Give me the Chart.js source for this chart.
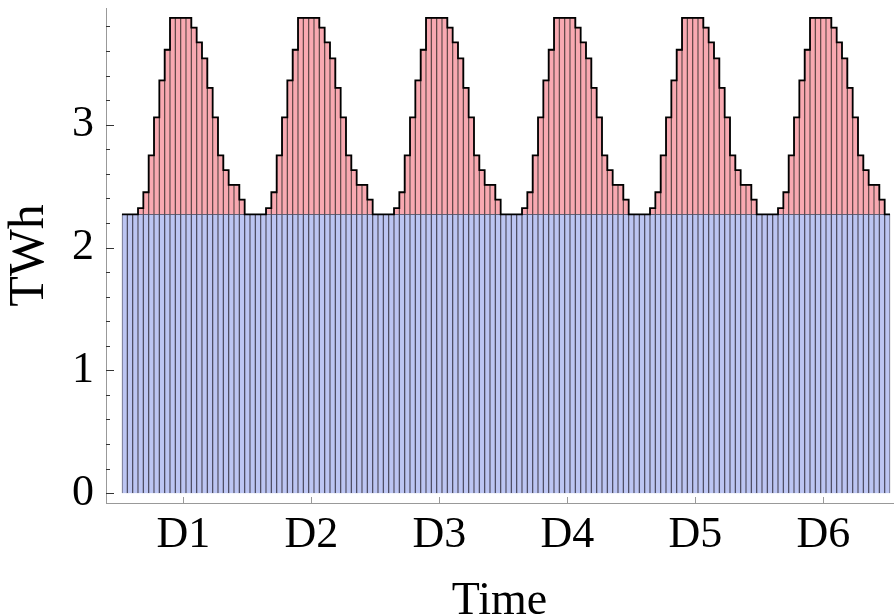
<!DOCTYPE html>
<html lang="en">
  <head>
    <meta charset="utf-8" />
    <title>Hourly load, six days</title>
    <style>
      * {
        margin: 0;
        padding: 0;
      }
      body {
        background: white;
      }
      .chartBox {
        width: 895px;
        height: 616px;
      }
    </style>
  </head>
  <body>
    <div class="chartBox">
      <canvas id="myChart"></canvas>
    </div>
    <script src="https://cdn.jsdelivr.net/npm/chart.js"></script>
    <script>
      // data (TWh per hour slot)
      const dayLabels = ['D1', 'D2', 'D3', 'D4', 'D5', 'D6'];
      const hoursPerDay = 24;
      const baseLoad = 2.27;
      // peak part on top of the base, one day, hour 0..23
      const peakProfile = [0, 0, 0, 0.05, 0.18, 0.48, 0.79, 1.09, 1.34, 1.6, 1.6, 1.6,
                           1.6, 1.52, 1.4, 1.27, 1.03, 0.79, 0.48, 0.36, 0.24, 0.24, 0.12, 0];
      const yMajorTicks = [0, 1, 2, 3];
      const yMinorTicks = [0.2, 0.4, 0.6, 0.8, 1.2, 1.4, 1.6, 1.8, 2.2, 2.4, 2.6, 2.8, 3.2, 3.4, 3.6, 3.8];
      const dayTickHour = 11;

      // build the series, hour by hour
      const baseData = [];
      const peakData = [];
      const outline = [];
      dayLabels.forEach((d, di) => {
        peakProfile.forEach((p, h) => {
          const i = di * hoursPerDay + h;
          baseData.push({ x: i, y: baseLoad });
          peakData.push({ x: i, y: p });
          outline.push({ x: i - 0.5, y: baseLoad + p });
        });
      });
      const last = outline[outline.length - 1];
      outline.push({ x: last.x + 1, y: last.y });
      const dayTicks = dayLabels.map((d, i) => i * hoursPerDay + dayTickHour);

      const serif = "'Liberation Serif', 'Times New Roman', serif";

      // inward ticks, like the original
      const innerTicks = {
        id: 'innerTicks',
        afterDraw(chart) {
          const { ctx, chartArea, scales } = chart;
          ctx.save();
          ctx.lineWidth = 1;
          ctx.strokeStyle = '#333';
          yMajorTicks.concat(yMinorTicks).forEach((v) => {
            const py = Math.round(scales.y.getPixelForValue(v)) + 0.5;
            const len = yMajorTicks.includes(v) ? 8 : 4;
            ctx.beginPath();
            ctx.moveTo(chartArea.left, py);
            ctx.lineTo(chartArea.left + len, py);
            ctx.stroke();
          });
          ctx.strokeStyle = '#999';
          dayTicks.forEach((v) => {
            const px = Math.round(scales.x.getPixelForValue(v)) + 0.5;
            ctx.beginPath();
            ctx.moveTo(px, chartArea.bottom);
            ctx.lineTo(px, chartArea.bottom - 6);
            ctx.stroke();
          });
          ctx.restore();
        },
      };

      const config = {
        type: 'bar',
        data: {
          datasets: [
            {
              label: 'outline',
              type: 'line',
              data: outline,
              stack: 'outline',
              stepped: 'before',
              borderColor: '#000',
              borderWidth: 1.8,
              pointRadius: 0,
              fill: false,
              order: 0,
            },
            {
              label: 'base',
              data: baseData,
              stack: 'load',
              backgroundColor: '#bcc5f2',
              borderColor: 'rgba(20, 20, 50, 0.65)',
              borderWidth: 1,
              barPercentage: 1,
              categoryPercentage: 1,
              order: 1,
            },
            {
              label: 'peak',
              data: peakData,
              stack: 'load',
              backgroundColor: '#f9a9b1',
              borderColor: 'rgba(50, 10, 10, 0.65)',
              borderWidth: 1,
              barPercentage: 1,
              categoryPercentage: 1,
              order: 1,
            },
          ],
        },
        options: {
          responsive: true,
          maintainAspectRatio: false,
          animation: false,
          layout: { padding: { top: 8, right: 2, left: 0, bottom: 0 } },
          plugins: {
            legend: { display: false },
            tooltip: { enabled: false },
          },
          scales: {
            x: {
              type: 'linear',
              stacked: true,
              offset: false,
              min: -3.5,
              max: 144.06,
              afterBuildTicks: (s) => {
                s.ticks = dayTicks.map((v) => ({ value: v }));
              },
              ticks: {
                autoSkip: false,
                maxRotation: 0,
                color: '#000',
                font: { family: serif, size: 44 },
                padding: 6,
                callback: (v) => dayLabels[dayTicks.indexOf(v)],
              },
              grid: { display: false, drawTicks: false },
              border: { display: true, color: '#999', width: 1 },
              title: {
                display: true,
                text: 'Time',
                color: '#000',
                font: { family: serif, size: 46 },
                padding: { top: 0, bottom: -14 },
              },
              afterFit: (s) => {
                s.height = 113;
                s.paddingLeft = 0;
                s.paddingRight = 0;
              },
            },
            y: {
              type: 'linear',
              stacked: true,
              min: -0.08,
              max: 3.95,
              afterBuildTicks: (s) => {
                s.ticks = yMajorTicks.map((v) => ({ value: v }));
              },
              ticks: {
                autoSkip: false,
                color: '#000',
                font: { family: serif, size: 44 },
                padding: 12,
              },
              grid: { display: false, drawTicks: false },
              border: { display: true, color: '#999', width: 1 },
              title: {
                display: true,
                text: 'TWh',
                color: '#000',
                font: { family: serif, size: 50 },
                padding: { top: 0, bottom: 0 },
              },
              afterFit: (s) => {
                s.width = 106;
                s.paddingTop = 0;
                s.paddingBottom = 0;
              },
            },
          },
        },
        plugins: [innerTicks],
      };

      const myChart = new Chart(document.getElementById('myChart'), config);
    </script>
  </body>
</html>
